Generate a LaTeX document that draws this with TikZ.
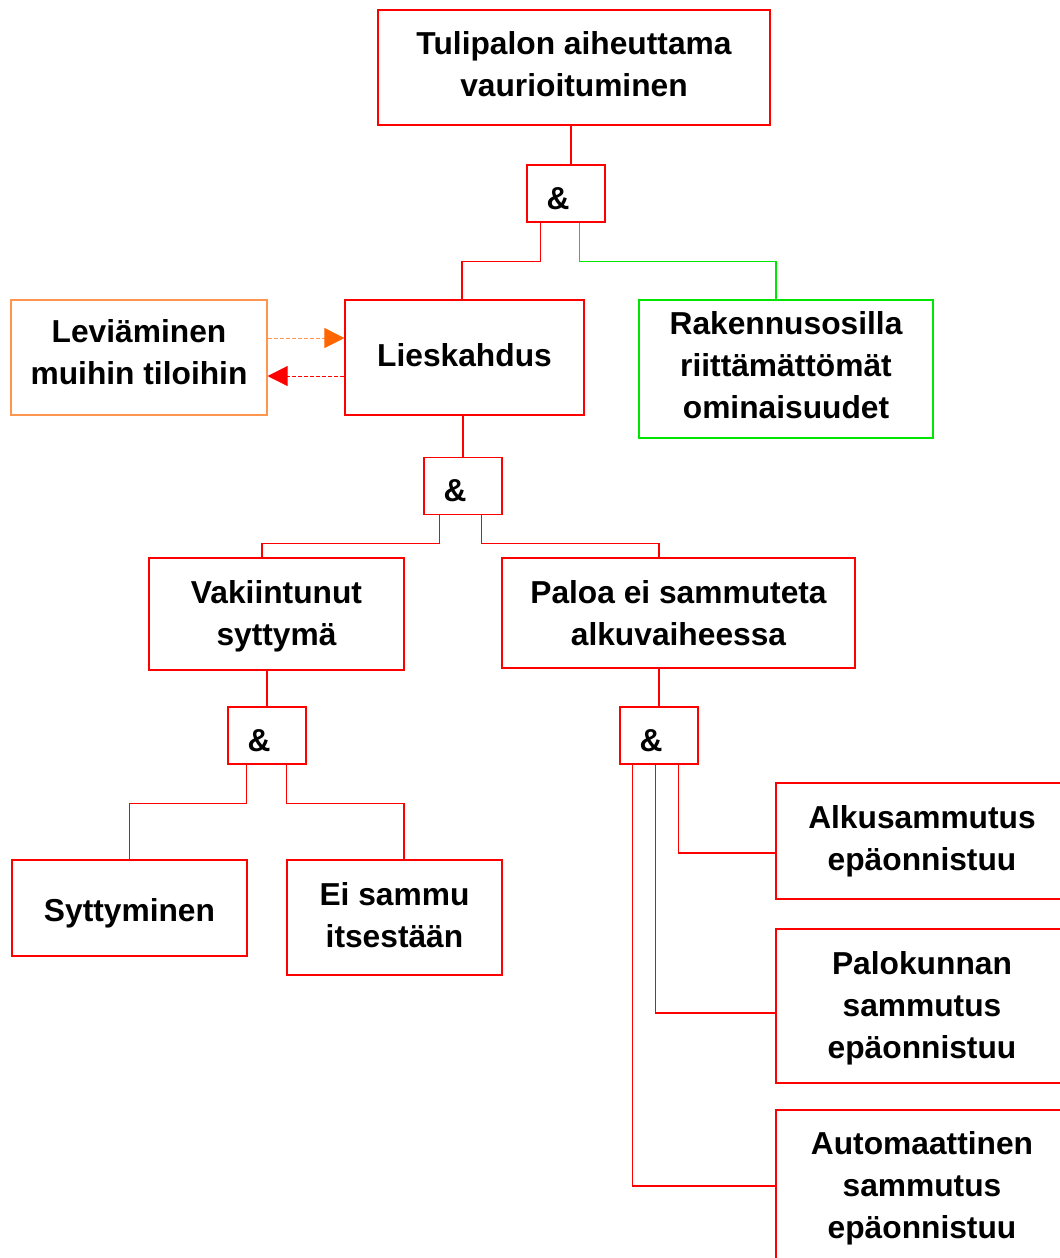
\documentclass[tikz,border=0pt]{standalone}
\usepackage{fontspec}
\setmainfont{Liberation Sans}
\usetikzlibrary{arrows.meta,calc}
\definecolor{lred}{RGB}{255,0,0}
\definecolor{lgreen}{RGB}{0,230,0}
\definecolor{lorange}{RGB}{255,102,0}
\definecolor{palorange}{RGB}{255,150,80}
% centred lines of text, moved up by #1 without changing the box size
\newcommand\nudged[2]{\raisebox{#1}[\height][\depth]{\begin{tabular}{@{}c@{}}#2\end{tabular}}}
\newcommand\andsign{\raisebox{-3.75pt}[\height][\depth]{\&}\hspace*{12pt}}
\begin{document}
\begin{tikzpicture}[x=0.75pt,y=-0.75pt,
  wire/.style={draw=lred,line width=0.9pt},
  box/.style 2 args={draw=lred,line width=0.9pt,inner sep=0pt,
    minimum width=#1*0.75pt,minimum height=#2*0.75pt,align=center,
    font=\fontsize{23.8}{31.5}\selectfont\bfseries},
  gate/.style={box={78}{57}}]
\useasboundingbox (0,0) rectangle (1060,1258);
\clip (0,0) rectangle (1060,1258);

% events
\node[box={392}{115}] (top) at (574,67.5) {\nudged{0pt}{Tulipalon aiheuttama\\vaurioituminen}};
\node[box={239}{115}] (lies) at (464.5,357.5) {\nudged{-0.75pt}{Lieskahdus}};
\node[box={256}{115},draw=palorange] (lev) at (139,357.5) {\nudged{1.5pt}{Leviäminen\\muihin tiloihin}};
\node[box={294}{138},draw=lgreen] (rak) at (786,369) {\nudged{0.75pt}{Rakennusosilla\\riittämättömät\\ominaisuudet}};
\node[box={255}{112}] (vak) at (276.5,614) {\nudged{-1.5pt}{Vakiintunut\\syttymä}};
\node[box={353}{110}] (pal) at (678.5,613) {Paloa ei sammuteta\\alkuvaiheessa};
\node[box={235}{96}] (syt) at (129.5,908) {\nudged{-3.75pt}{Syttyminen}};
\node[box={215}{115}] (ei) at (394.5,917.5) {\nudged{-0.75pt}{Ei sammu\\itsestään}};
\node[box={292}{116}] (alku) at (922,841) {Alkusammutus\\epäonnistuu};
\node[box={292}{154}] (palo) at (922,1006) {\nudged{-1.5pt}{Palokunnan\\sammutus\\epäonnistuu}};
\node[box={292}{152}] (auto) at (922,1186) {\nudged{-1.5pt}{Automaattinen\\sammutus\\epäonnistuu}};

% AND gates
\node[gate] (g1) at (566,193.5) {\andsign};
\node[gate] (g2) at (463,486) {\andsign};
\node[gate] (g3) at (267,735.5) {\andsign};
\node[gate] (g4) at (659,735.5) {\andsign};

% top gate
\draw[wire] ([xshift=3.75pt]g1.north) -- ([xshift=3.75pt]g1.north |- top.south);
\draw[wire] ([xshift=10.5pt]g1.south west) -- ++(0,39) -| ([xshift=-1.9pt]lies.north);
\draw[draw=lgreen,line width=0.9pt] ([xshift=39.75pt]g1.south west) -- ++(0,39) -| ([xshift=-7.5pt]rak.north);

% spreading between rooms
\draw[color=palorange,line width=0.8pt,dash pattern=on 3pt off 1.5pt,
  -{Triangle[length=15pt,width=15pt,color=lorange]}]
  ([yshift=14.6pt]lev.east) -- ([yshift=14.6pt]lies.west);
\draw[color=lred,line width=0.6pt,dash pattern=on 3pt off 1.5pt,
  -{Triangle[length=15pt,width=15pt,color=lred]}]
  ([yshift=-13.9pt]lies.west) -- ([yshift=-13.9pt]lev.east);

% flashover gate
\draw[wire] (g2.north) -- (g2.north |- lies.south);
\draw[wire] ([xshift=12pt]g2.south west) -- ++(0,28) -| ([xshift=-10.9pt]vak.north);
\draw[wire] ([xshift=43.5pt]g2.south west) -- ++(0,28) -| ([xshift=-14.6pt]pal.north);

% established ignition gate
\draw[wire] (g3.north) -- (g3.north |- vak.south);
\draw[wire] ([xshift=14.25pt]g3.south west) -- ++(0,39) -| (syt.north);
\draw[wire] ([xshift=44.25pt]g3.south west) -- ++(0,39) -| ([xshift=7.1pt]ei.north);

% extinguishing gate
\draw[wire] (g4.north) -- (g4.north |- pal.south);
\draw[wire] ([xshift=44.25pt]g4.south west) |- ([yshift=-9pt]alku.west);
\draw[wire] ([xshift=27pt]g4.south west) |- ([yshift=-5.25pt]palo.west);
\draw[wire] ([xshift=9.75pt]g4.south west) |- (auto.west);
\end{tikzpicture}
\end{document}
